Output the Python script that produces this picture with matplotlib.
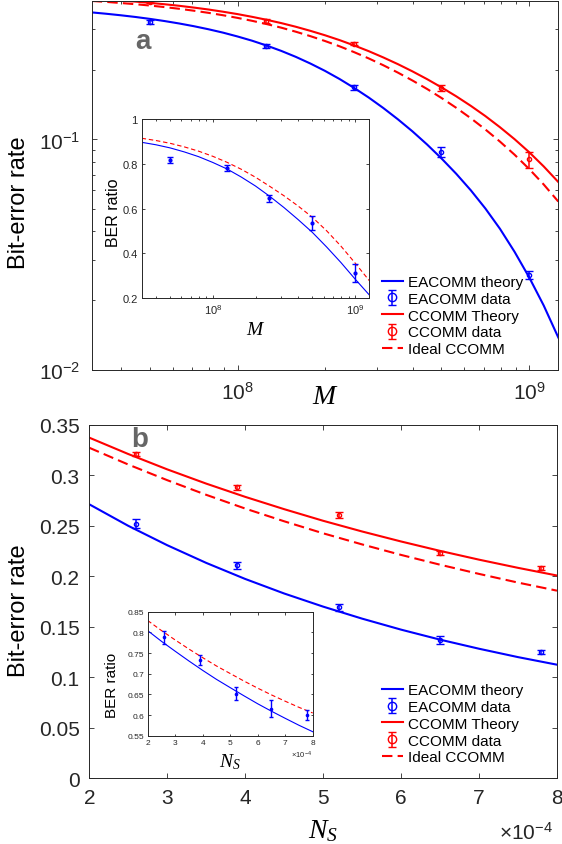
import matplotlib
matplotlib.use('Agg')
import matplotlib.pyplot as plt
from matplotlib.ticker import LogLocator, FuncFormatter, MultipleLocator, NullFormatter

plt.rcParams['font.family'] = ['Liberation Sans', 'DejaVu Sans']
plt.rcParams['mathtext.fontset'] = 'custom'
plt.rcParams['mathtext.rm'] = 'Liberation Sans'
plt.rcParams['mathtext.it'] = 'Liberation Serif:italic'
plt.rcParams['mathtext.bf'] = 'Liberation Sans:bold'
plt.rcParams['axes.unicode_minus'] = False

# ---------- panel a : BER vs M ----------
m_data = [5e7, 1.25e8, 2.5e8, 5e8, 1e9]
ea_ber_a = [0.3234, 0.254, 0.168, 0.0884, 0.0257]
ea_err_a = [0.0056, 0.0043, 0.0046, 0.0045, 0.0010]
cc_ber_a = [0.395, 0.3257, 0.260, 0.167, 0.0818]
cc_err_a = [0.0052, 0.0059, 0.0034, 0.0050, 0.0064]

m_theory = [3.162e7, 3.548e7, 3.981e7, 4.467e7, 5.012e7, 5.623e7, 6.310e7, 7.079e7,
            7.943e7, 8.913e7, 1e8, 1.122e8, 1.259e8, 1.413e8, 1.585e8, 1.778e8,
            1.995e8, 2.239e8, 2.512e8, 2.818e8, 3.162e8, 3.548e8, 3.981e8, 4.467e8,
            5.012e8, 5.623e8, 6.310e8, 7.079e8, 7.943e8, 8.913e8, 1e9, 1.122e9, 1.259e9]
ea_th_a = [0.3558, 0.3510, 0.3457, 0.3399, 0.3334, 0.3263, 0.3185, 0.3100,
           0.3007, 0.2907, 0.2797, 0.2681, 0.2554, 0.2421, 0.2281, 0.2134,
           0.1983, 0.1828, 0.1672, 0.1519, 0.1368, 0.1222, 0.1083, 0.0950,
           0.0825, 0.0709, 0.0601, 0.0501, 0.0409, 0.0325, 0.0252, 0.0190, 0.0138]
cc_th_a = [0.4083, 0.4048, 0.4007, 0.3963, 0.3914, 0.3860, 0.3801, 0.3734,
           0.3663, 0.3583, 0.3498, 0.3404, 0.3304, 0.3197, 0.3082, 0.2959,
           0.2831, 0.2697, 0.2557, 0.2415, 0.2268, 0.2121, 0.1973, 0.1826,
           0.1680, 0.1538, 0.1398, 0.1262, 0.1129, 0.1002, 0.0880, 0.0763, 0.0653]
ideal_a = [0.3990, 0.3952, 0.3908, 0.3862, 0.3810, 0.3752, 0.3689, 0.3619,
           0.3543, 0.3459, 0.3368, 0.3271, 0.3166, 0.3054, 0.2933, 0.2806,
           0.2673, 0.2535, 0.2391, 0.2246, 0.2098, 0.1949, 0.1801, 0.1655,
           0.1511, 0.1371, 0.1235, 0.1104, 0.0978, 0.0858, 0.0744, 0.0637, 0.0537]

# inset a : BER ratio
ratio_a = [0.8186, 0.780, 0.646, 0.536, 0.313]
ratio_err_a = [0.014, 0.0126, 0.015, 0.032, 0.042]
m_inset = [3.162e7, 3.981e7, 5.012e7, 6.310e7, 7.943e7, 1e8, 1.259e8, 1.585e8, 1.995e8,
           2.512e8, 3.162e8, 3.981e8, 5.012e8, 6.310e8, 7.943e8, 1e9, 1.259e9]
ratio_th_a = [0.896, 0.885, 0.871, 0.853, 0.832, 0.806, 0.777, 0.741, 0.701,
              0.655, 0.605, 0.551, 0.494, 0.429, 0.360, 0.286, 0.215]
ratio_ideal_a = [0.914, 0.904, 0.8915, 0.8755, 0.8565, 0.8335, 0.8067, 0.7757, 0.7402,
                 0.6996, 0.6576, 0.6116, 0.5613, 0.5013, 0.4333, 0.3576, 0.2788]

# ---------- panel b : BER vs N_S (units of 1e-4) ----------
ns_data = [2.6, 3.9, 5.2, 6.5, 7.8]
ea_ber_b = [0.252, 0.2106, 0.1689, 0.1368, 0.1248]
ea_err_b = [0.0048, 0.0032, 0.0033, 0.0040, 0.0020]
cc_ber_b = [0.3207, 0.2879, 0.260, 0.2225, 0.2076]
cc_err_b = [0.0023, 0.0025, 0.0030, 0.0020, 0.0020]

ns_theory = [2.0, 2.5, 3.0, 3.5, 4.0, 4.5, 5.0, 5.5, 6.0, 6.5, 7.0, 7.5, 8.0]
ea_th_b = [0.271, 0.2497, 0.2305, 0.2130, 0.1971, 0.1827, 0.1697, 0.1578, 0.1469,
           0.1370, 0.1280, 0.1197, 0.1122]
cc_th_b = [0.337, 0.3208, 0.3056, 0.2915, 0.2784, 0.2662, 0.2547, 0.2441, 0.2342,
           0.2249, 0.2162, 0.2081, 0.2005]
ideal_b = [0.327, 0.3104, 0.2949, 0.2804, 0.2668, 0.2542, 0.2423, 0.2313, 0.2209,
           0.2112, 0.2021, 0.1935, 0.1855]

ratio_b = [0.788, 0.733, 0.652, 0.615, 0.600]
ratio_err_b = [0.016, 0.013, 0.015, 0.021, 0.011]
ratio_th_b = [0.8042, 0.7784, 0.7543, 0.7307, 0.7080, 0.6863, 0.6663, 0.6465, 0.6272,
              0.6092, 0.5920, 0.5752, 0.5596]
ratio_ideal_b = [0.8287, 0.8044, 0.7816, 0.7596, 0.7388, 0.7187, 0.7004, 0.6822, 0.6650,
                 0.6487, 0.6334, 0.6186, 0.6049]

legend_order = ['EACOMM theory', 'EACOMM data', 'CCOMM Theory', 'CCOMM data', 'Ideal CCOMM']

BLUE = '#0000ff'
RED = '#ff0000'
GREY = '#262626'
gfmt = FuncFormatter(lambda v, p: '%g' % v)


def style(ax, size, length, pad):
    ax.tick_params(which='both', direction='in', top=True, right=True,
                   labelsize=size, colors=GREY, width=0.6, pad=pad)
    ax.tick_params(which='major', length=length)
    ax.tick_params(which='minor', length=length * 0.6)
    for s in ax.spines.values():
        s.set_linewidth(0.7)
        s.set_color(GREY)


def main_panel(ax, x_th, ea_th, cc_th, ideal, x_d, ea, ea_e, cc, cc_e):
    ax.plot(x_th, ea_th, color=BLUE, lw=1.5, label='EACOMM theory')
    ax.errorbar(x_d, ea, yerr=ea_e, fmt='o', color=BLUE, ms=3, mfc='none', mew=1,
                elinewidth=1.1, capsize=3, label='EACOMM data')
    ax.plot(x_th, cc_th, color=RED, lw=1.5, label='CCOMM Theory')
    ax.errorbar(x_d, cc, yerr=cc_e, fmt='o', color=RED, ms=3, mfc='none', mew=1,
                elinewidth=1.1, capsize=3, label='CCOMM data')
    ax.plot(x_th, ideal, color=RED, lw=1.5, ls=(0, (5, 2.5)), label='Ideal CCOMM')


def add_legend(ax, anchor):
    h, l = ax.get_legend_handles_labels()
    hd = dict(zip(l, h))
    ax.legend([hd[k] for k in legend_order], legend_order, loc='upper left',
              bbox_to_anchor=anchor, frameon=False, fontsize=11, borderpad=0,
              borderaxespad=0, handlelength=1.4, handletextpad=0.3,
              labelspacing=0.185, markerscale=2)


def inset_panel(ax, x_th, r_th, r_ideal, x_d, r, r_e, ms, cap):
    ax.plot(x_th, r_th, color=BLUE, lw=0.8)
    ax.plot(x_th, r_ideal, color=RED, lw=0.8, ls=(0, (4, 2.5)))
    ax.errorbar(x_d, r, yerr=r_e, fmt='o', color=BLUE, ms=ms, elinewidth=1,
                capsize=cap)


fig = plt.figure(figsize=(5.62, 8.45), dpi=100)

# ---- panel a ----
ax1 = fig.add_axes([0.1632, 0.5613, 0.8302, 0.4367])
main_panel(ax1, m_theory, ea_th_a, cc_th_a, ideal_a, m_data,
           ea_ber_a, ea_err_a, cc_ber_a, cc_err_a)
ax1.set_xscale('log')
ax1.set_yscale('log')
ax1.set_xlim(10 ** 7.5, 10 ** 9.1)
ax1.set_ylim(0.01, 0.4)
ax1.yaxis.set_minor_formatter(NullFormatter())
ax1.xaxis.set_minor_formatter(NullFormatter())
style(ax1, 15, 3.5, 8)
ax1.set_xlabel('$M$', fontsize=20, color='black')
ax1.xaxis.set_label_coords(0.5, -0.035)
ax1.set_ylabel('Bit-error rate', fontsize=17, color='black')
ax1.yaxis.set_label_coords(-0.132, 0.454)
ax1.text(0.11, 0.891, 'a', transform=ax1.transAxes, fontsize=20, fontweight='bold',
         color='#666666', ha='center', va='center')
add_legend(ax1, (0.6215, 0.2566))

ins1 = fig.add_axes([0.2521, 0.6458, 0.4050, 0.2122])
inset_panel(ins1, m_inset, ratio_th_a, ratio_ideal_a, m_data, ratio_a, ratio_err_a, 2, 2)
ins1.set_xscale('log')
ins1.set_xlim(10 ** 7.5, 10 ** 9.1)
ins1.set_ylim(0.2, 1.0)
ins1.yaxis.set_major_locator(MultipleLocator(0.2))
ins1.yaxis.set_major_formatter(gfmt)
ins1.xaxis.set_minor_locator(LogLocator(subs=range(2, 10)))
ins1.xaxis.set_minor_formatter(NullFormatter())
style(ins1, 8, 2.2, 3)
ins1.set_xlabel('$M$', fontsize=14, color='black')
ins1.xaxis.set_label_coords(0.5, -0.125)
ins1.set_ylabel('BER ratio', fontsize=11.5, color='black')
ins1.yaxis.set_label_coords(-0.09, 0.48)

# ---- panel b ----
ax2 = fig.add_axes([0.1589, 0.0781, 0.8322, 0.4183])
main_panel(ax2, ns_theory, ea_th_b, cc_th_b, ideal_b, ns_data,
           ea_ber_b, ea_err_b, cc_ber_b, cc_err_b)
ax2.set_xlim(2, 8)
ax2.set_ylim(0, 0.35)
ax2.xaxis.set_major_locator(MultipleLocator(1))
ax2.yaxis.set_major_locator(MultipleLocator(0.05))
ax2.yaxis.set_major_formatter(gfmt)
style(ax2, 15, 3.5, 7)
ax2.set_xlabel('$N_S$', fontsize=20, color='black')
ax2.xaxis.set_label_coords(0.5, -0.11)
ax2.set_ylabel('Bit-error rate', fontsize=17, color='black')
ax2.yaxis.set_label_coords(-0.127, 0.475)
ax2.text(0.9914, -0.153, r'$\times\mathdefault{10^{-4}}$', transform=ax2.transAxes,
         fontsize=15, color=GREY, ha='right', va='center')
ax2.text(0.107, 0.959, 'b', transform=ax2.transAxes, fontsize=20, fontweight='bold',
         color='#666666', ha='center', va='center')
add_legend(ax2, (0.6252, 0.2687))

ins2 = fig.add_axes([0.2628, 0.1282, 0.2936, 0.1467])
inset_panel(ins2, ns_theory, ratio_th_b, ratio_ideal_b, ns_data, ratio_b, ratio_err_b, 1.6, 1.5)
ins2.set_xlim(2, 8)
ins2.set_ylim(0.55, 0.85)
ins2.xaxis.set_major_locator(MultipleLocator(1))
ins2.yaxis.set_major_locator(MultipleLocator(0.05))
ins2.yaxis.set_major_formatter(gfmt)
style(ins2, 6, 1.8, 2.5)
ins2.set_xlabel('$N_S$', fontsize=14, color='black')
ins2.xaxis.set_label_coords(0.5, -0.13)
ins2.set_ylabel('BER ratio', fontsize=11, color='black')
ins2.yaxis.set_label_coords(-0.174, 0.41)
ins2.text(0.994, -0.148, r'$\times\mathdefault{10^{-4}}$', transform=ins2.transAxes,
          fontsize=5.5, color=GREY, ha='right', va='center')

fig.savefig('out.png', dpi=100)
